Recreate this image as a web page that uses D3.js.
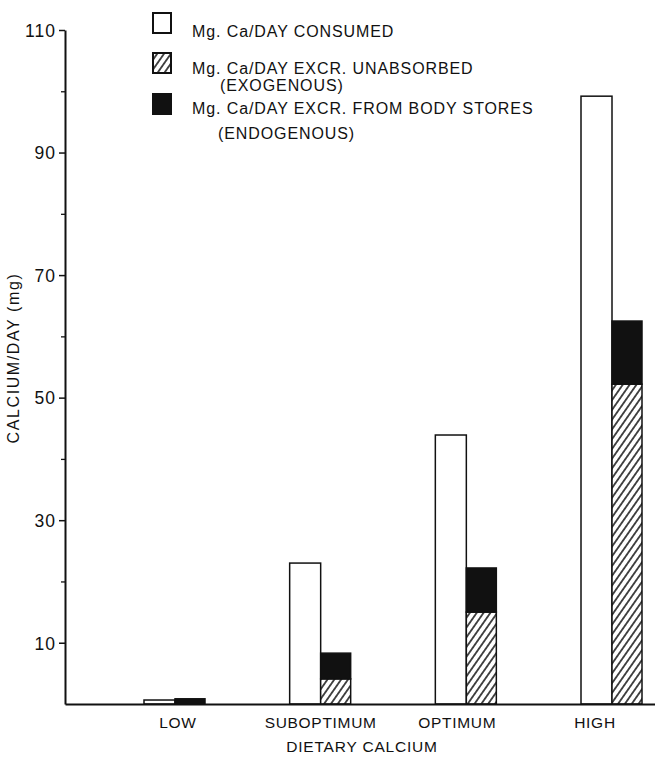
<!DOCTYPE html>
<html>
<head>
<meta charset="utf-8">
<script src="https://cdn.jsdelivr.net/npm/d3@7/dist/d3.min.js"></script>
<style>
  html, body { margin: 0; padding: 0; background: #fff; }
  svg { display: block; }
  text { font-family: "Liberation Sans", Arial, sans-serif; fill: #111; }
</style>
</head>
<body>
<script>
// ---- data ----
const categories = ["LOW", "SUBOPTIMUM", "OPTIMUM", "HIGH"];
const consumed   = [0.65, 23.0, 43.9, 99.2];   // Mg Ca/day consumed
const exogenous  = [0.0, 4.1, 15.0, 52.2];     // excreted unabsorbed
const endogenous = [0.85, 4.2, 7.2, 10.3];     // excreted from body stores
const majorTicks = [10, 30, 50, 70, 90, 110];
const minorTicks = [20, 40, 60, 80, 100];
const legendLines = [
  ["Mg. Ca/DAY CONSUMED"],
  ["Mg. Ca/DAY EXCR. UNABSORBED", "(EXOGENOUS)"],
  ["Mg. Ca/DAY EXCR. FROM BODY STORES", "(ENDOGENOUS)"]
];
const yTitle = "CALCIUM/DAY (mg)";
const xTitle = "DIETARY CALCIUM";

// ---- layout ----
const W = 655, H = 757;
const ink = "#111";
const svg = d3.select("body").append("svg").attr("width", W).attr("height", H);

const defs = svg.append("defs");
const pat = defs.append("pattern").attr("id", "hatch")
  .attr("patternUnits", "userSpaceOnUse")
  .attr("width", 5.6).attr("height", 20)
  .attr("patternTransform", "rotate(35)");
pat.append("rect").attr("width", 5.6).attr("height", 20).attr("fill", "#fff");
pat.append("line").attr("x1", 2.8).attr("x2", 2.8).attr("y1", 0).attr("y2", 20)
  .attr("stroke", ink).attr("stroke-width", 1.5);

const y = d3.scaleLinear().domain([0, 110]).range([704, 30]);
const x = d3.scalePoint().domain(categories).range([175, 612]);
const bw = 31;

const data = categories.map((c, i) => ({
  c, cons: consumed[i], exo: exogenous[i], endo: endogenous[i]
}));

// bars: consumed (open)
svg.append("g").selectAll("rect").data(data).join("rect")
  .attr("x", d => x(d.c) - bw)
  .attr("y", d => y(d.cons))
  .attr("width", bw)
  .attr("height", d => y(0) - y(d.cons))
  .attr("fill", "#fff").attr("stroke", ink).attr("stroke-width", 1.5);

// exogenous (hatched)
svg.append("g").selectAll("rect").data(data.filter(d => d.exo > 0)).join("rect")
  .attr("x", d => x(d.c))
  .attr("y", d => y(d.exo))
  .attr("width", bw - 1)
  .attr("height", d => y(0) - y(d.exo))
  .attr("fill", "url(#hatch)").attr("stroke", ink).attr("stroke-width", 1.5);

// endogenous (black, stacked on top)
svg.append("g").selectAll("rect").data(data).join("rect")
  .attr("x", d => x(d.c))
  .attr("y", d => y(d.exo + d.endo))
  .attr("width", bw - 1)
  .attr("height", d => y(d.exo) - y(d.exo + d.endo))
  .attr("fill", ink).attr("stroke", ink).attr("stroke-width", 1.5);

// y axis
const yAxis = svg.append("g").attr("transform", "translate(65,0)")
  .call(d3.axisLeft(y).tickValues(majorTicks).tickSize(6).tickSizeOuter(0).tickPadding(3));
yAxis.select(".domain").attr("stroke", ink).attr("stroke-width", 2);
yAxis.selectAll(".tick line").attr("stroke", ink).attr("stroke-width", 1.5);
yAxis.selectAll(".tick text").attr("font-size", 17.5).attr("letter-spacing", 1)
  .attr("font-family", "Liberation Sans, Arial, sans-serif")
  .attr("fill", ink).attr("dy", "0.36em");

const yMinor = svg.append("g").attr("transform", "translate(65,0)")
  .call(d3.axisLeft(y).tickValues(minorTicks).tickSize(4).tickFormat(""));
yMinor.select(".domain").remove();
yMinor.selectAll(".tick line").attr("stroke", ink).attr("stroke-width", 1.3);

// x axis baseline
const xAxis = svg.append("g").attr("transform", `translate(0,${y(0)})`)
  .call(d3.axisBottom(d3.scaleLinear().domain([0, 1]).range([65, W])).tickValues([]).tickSizeOuter(0));
xAxis.select(".domain").attr("stroke", ink).attr("stroke-width", 2);

// category labels (hand-lettered, slightly off-centre in the original)
const labelDx = [3, 0, -9, -17];
svg.append("g").selectAll("text").data(categories).join("text")
  .attr("x", (d, i) => x(d) + labelDx[i]).attr("y", 728)
  .attr("text-anchor", "middle").attr("font-size", 15.5).attr("letter-spacing", 0.7)
  .text(d => d);

// axis titles
svg.append("text").attr("x", 362).attr("y", 752).attr("text-anchor", "middle")
  .attr("font-size", 15.5).attr("letter-spacing", 0.8).text(xTitle);
svg.append("text").attr("transform", "translate(19,358) rotate(-90)")
  .attr("text-anchor", "middle").attr("font-size", 16).attr("letter-spacing", 1.6).text(yTitle);

// legend
const legendFill = ["#fff", "url(#hatch)", ink];
const legY = [13, 53, 94];
const textY = [37, 74, 114];
const subDy = [0, 17, 25];
const subDx = [0, 28, 26];
const leg = svg.append("g");
legendLines.forEach((lines, i) => {
  leg.append("rect").attr("x", 153).attr("y", legY[i]).attr("width", 18).attr("height", 20)
    .attr("fill", legendFill[i]).attr("stroke", ink).attr("stroke-width", 2);
  leg.append("text").attr("x", 192).attr("y", textY[i])
    .attr("font-size", 16).attr("letter-spacing", 0.9).text(lines[0]);
  if (lines[1]) {
    leg.append("text").attr("x", 192 + subDx[i]).attr("y", textY[i] + subDy[i])
      .attr("font-size", 16).attr("letter-spacing", 0.9).text(lines[1]);
  }
});
</script>
</body>
</html>
